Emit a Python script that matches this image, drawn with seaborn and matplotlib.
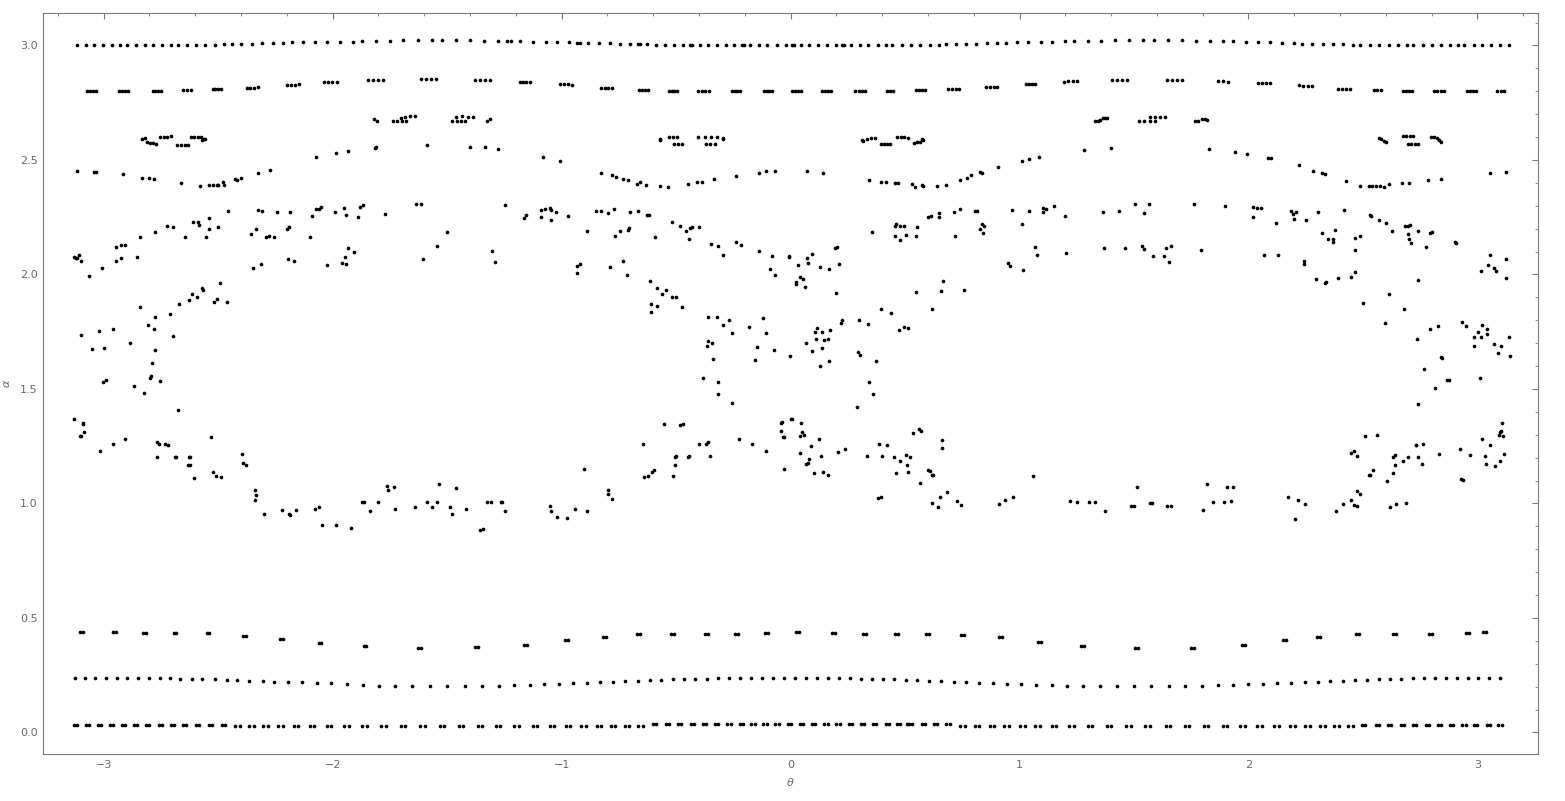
"""
Poincare section of (theta, alpha): scatter of section crossings.
Values read off the reference picture, grouped by visible band.
"""
import matplotlib

matplotlib.use("Agg")
import matplotlib.pyplot as plt
from matplotlib.ticker import MultipleLocator, FormatStrFormatter
import pandas as pd
import seaborn as sns

sns.set_theme(style="white")
plt.rcParams["font.family"] = ["DejaVu Sans"]

# --- outer curve near alpha = 3.0 ---
top_band = [
    (-3.117, 3.000), (-3.077, 3.000), (-3.042, 3.000), (-3.003, 3.000), (-2.964, 3.000), (-2.930, 3.000),
    (-2.898, 3.000), (-2.859, 3.000), (-2.820, 3.000), (-2.785, 3.000), (-2.745, 3.000), (-2.706, 3.000),
    (-2.674, 3.000), (-2.636, 3.000), (-2.597, 3.000), (-2.558, 3.000), (-2.514, 3.003), (-2.475, 3.005),
    (-2.438, 3.005), (-2.400, 3.005), (-2.352, 3.006), (-2.309, 3.010), (-2.261, 3.010), (-2.217, 3.010),
    (-2.178, 3.013), (-2.130, 3.013), (-2.077, 3.013), (-2.025, 3.017), (-1.968, 3.017), (-1.911, 3.017),
    (-1.872, 3.020), (-1.809, 3.020), (-1.751, 3.020), (-1.691, 3.022), (-1.629, 3.022), (-1.566, 3.022),
    (-1.523, 3.022), (-1.462, 3.022), (-1.400, 3.022), (-1.338, 3.021), (-1.278, 3.019), (-1.237, 3.019),
    (-1.221, 3.019), (-1.182, 3.018), (-1.125, 3.017), (-1.069, 3.016), (-1.021, 3.015), (-0.966, 3.013),
    (-0.932, 3.012), (-0.920, 3.012), (-0.885, 3.011), (-0.835, 3.010), (-0.787, 3.009), (-0.744, 3.007),
    (-0.701, 3.006), (-0.667, 3.005), (-0.659, 3.005), (-0.626, 3.004), (-0.587, 3.003), (-0.548, 3.002),
    (-0.508, 3.000), (-0.469, 3.000), (-0.438, 3.000), (-0.430, 3.000), (-0.397, 3.000), (-0.359, 3.000),
    (-0.320, 3.000), (-0.281, 3.000), (-0.245, 3.000), (-0.212, 3.000), (-0.204, 3.000), (-0.176, 3.000),
    (-0.139, 3.000), (-0.102, 3.000), (-0.061, 3.000), (-0.022, 3.000), (0.007, 3.000), (0.014, 3.000),
    (0.045, 3.000), (0.082, 3.000), (0.120, 3.000), (0.159, 3.000), (0.197, 3.000), (0.225, 3.000),
    (0.234, 3.000), (0.263, 3.000), (0.302, 3.000), (0.340, 3.000), (0.381, 3.000), (0.417, 3.000),
    (0.445, 3.000), (0.485, 3.000), (0.525, 3.000), (0.565, 3.000), (0.608, 3.002), (0.647, 3.003),
    (0.677, 3.004), (0.721, 3.005), (0.765, 3.006), (0.810, 3.008), (0.857, 3.009), (0.902, 3.010),
    (0.941, 3.012), (0.990, 3.013), (1.039, 3.015), (1.092, 3.016), (1.141, 3.017), (1.197, 3.018),
    (1.237, 3.019), (1.299, 3.020), (1.355, 3.021), (1.417, 3.022), (1.479, 3.022), (1.540, 3.022),
    (1.588, 3.022), (1.649, 3.022), (1.710, 3.022), (1.772, 3.021), (1.833, 3.020), (1.889, 3.019),
    (1.932, 3.018), (1.990, 3.017), (2.043, 3.015), (2.095, 3.013), (2.148, 3.012), (2.197, 3.010),
    (2.236, 3.008), (2.279, 3.007), (2.327, 3.006), (2.371, 3.005), (2.415, 3.004), (2.458, 3.003),
    (2.488, 3.002), (2.532, 3.000), (2.572, 3.000), (2.616, 3.000), (2.655, 3.000), (2.693, 3.000),
    (2.720, 3.000), (2.761, 3.000), (2.800, 3.000), (2.840, 3.000), (2.879, 3.000), (2.914, 3.000),
    (2.943, 3.000), (2.983, 3.000), (3.022, 3.000), (3.060, 3.000), (3.098, 3.000), (3.136, 3.000),
]

# --- island chain near alpha = 2.8 (short dashes of 3-4 crossings) ---
dash_band = [
    (-3.072, 2.800), (-3.060, 2.800), (-3.047, 2.800), (-3.035, 2.800),
    (-2.934, 2.800), (-2.921, 2.800), (-2.908, 2.800), (-2.895, 2.800),
    (-2.786, 2.800), (-2.774, 2.800), (-2.762, 2.800), (-2.751, 2.800),
    (-2.655, 2.804), (-2.638, 2.804), (-2.620, 2.804),
    (-2.524, 2.809), (-2.512, 2.809), (-2.501, 2.809), (-2.489, 2.809),
    (-2.376, 2.815), (-2.360, 2.815), (-2.344, 2.815), (-2.328, 2.817),
    (-2.201, 2.826), (-2.183, 2.828), (-2.166, 2.828), (-2.148, 2.831),
    (-2.039, 2.839), (-2.020, 2.839), (-2.002, 2.839), (-1.983, 2.839),
    (-1.847, 2.848), (-1.825, 2.848), (-1.804, 2.848), (-1.782, 2.848),
    (-1.616, 2.852), (-1.594, 2.852), (-1.572, 2.852), (-1.550, 2.852),
    (-1.380, 2.850), (-1.358, 2.850), (-1.336, 2.850), (-1.314, 2.850),
    (-1.183, 2.842), (-1.169, 2.842), (-1.154, 2.842), (-1.140, 2.842),
    (-1.006, 2.831), (-0.989, 2.831), (-0.972, 2.831), (-0.955, 2.829),
    (-0.826, 2.816), (-0.811, 2.816), (-0.796, 2.816), (-0.781, 2.816),
    (-0.664, 2.807), (-0.650, 2.807), (-0.635, 2.807), (-0.621, 2.807),
    (-0.533, 2.803), (-0.520, 2.803), (-0.508, 2.803), (-0.495, 2.803),
    (-0.403, 2.800), (-0.388, 2.800), (-0.373, 2.800), (-0.358, 2.800),
    (-0.257, 2.800), (-0.244, 2.800), (-0.232, 2.800), (-0.219, 2.800),
    (-0.117, 2.800), (-0.104, 2.800), (-0.092, 2.800), (-0.079, 2.800),
    (0.007, 2.800), (0.020, 2.800), (0.032, 2.800), (0.045, 2.800),
    (0.138, 2.800), (0.151, 2.800), (0.164, 2.800), (0.177, 2.800),
    (0.283, 2.800), (0.297, 2.800), (0.312, 2.800), (0.326, 2.800),
    (0.421, 2.800), (0.435, 2.800), (0.448, 2.800),
    (0.548, 2.804), (0.561, 2.804), (0.574, 2.804), (0.587, 2.804),
    (0.688, 2.810), (0.704, 2.810), (0.721, 2.810), (0.737, 2.810),
    (0.854, 2.817), (0.870, 2.819), (0.887, 2.819), (0.903, 2.819),
    (1.028, 2.831), (1.042, 2.833), (1.055, 2.833), (1.069, 2.833),
    (1.194, 2.842), (1.213, 2.844), (1.233, 2.844), (1.252, 2.844),
    (1.404, 2.851), (1.425, 2.851), (1.447, 2.851), (1.468, 2.851),
    (1.643, 2.851), (1.665, 2.851), (1.686, 2.851), (1.708, 2.851),
    (1.866, 2.846), (1.889, 2.844), (1.911, 2.842),
    (2.043, 2.835), (2.061, 2.835), (2.078, 2.835), (2.096, 2.835),
    (2.221, 2.826), (2.240, 2.824), (2.258, 2.824), (2.277, 2.822),
    (2.391, 2.811), (2.408, 2.811), (2.426, 2.811), (2.443, 2.811),
    (2.548, 2.806), (2.563, 2.804), (2.578, 2.804),
    (2.674, 2.800), (2.687, 2.800), (2.700, 2.800), (2.713, 2.800),
    (2.809, 2.800), (2.824, 2.800), (2.840, 2.800), (2.855, 2.800),
    (2.954, 2.800), (2.967, 2.800), (2.980, 2.800), (2.993, 2.800),
    (3.087, 2.800), (3.102, 2.800), (3.118, 2.800),
]

# --- small resonance islands near alpha = 2.6 and 2.68 ---
islands = [
    (-2.831, 2.590), (-2.821, 2.597), (-2.809, 2.577), (-2.797, 2.575), (-2.785, 2.573), (-2.773, 2.571),
    (-2.754, 2.600), (-2.738, 2.600), (-2.722, 2.602), (-2.707, 2.603), (-2.678, 2.567), (-2.662, 2.567),
    (-2.646, 2.567), (-2.630, 2.567), (-2.620, 2.600), (-2.605, 2.600), (-2.590, 2.600), (-2.576, 2.600),
    (-2.569, 2.585), (-2.563, 2.590), (-2.558, 2.593),
    (-1.820, 2.677), (-1.805, 2.670), (-1.735, 2.669), (-1.717, 2.669), (-1.699, 2.669), (-1.681, 2.669),
    (-1.703, 2.682), (-1.682, 2.689), (-1.662, 2.690), (-1.641, 2.690), (-1.477, 2.669), (-1.458, 2.669),
    (-1.440, 2.669), (-1.421, 2.669), (-1.462, 2.689), (-1.437, 2.690), (-1.411, 2.689), (-1.386, 2.688),
    (-1.324, 2.672), (-1.314, 2.678),
    (-0.572, 2.587), (-0.570, 2.590), (-0.533, 2.599), (-0.514, 2.599), (-0.495, 2.599), (-0.508, 2.569),
    (-0.492, 2.569), (-0.475, 2.569), (-0.403, 2.599), (-0.375, 2.599), (-0.348, 2.599), (-0.320, 2.599),
    (-0.371, 2.571), (-0.352, 2.571), (-0.332, 2.571), (-0.297, 2.590), (-0.295, 2.594),
    (0.311, 2.585), (0.315, 2.583), (0.335, 2.592), (0.352, 2.595), (0.369, 2.597), (0.396, 2.569),
    (0.409, 2.569), (0.423, 2.569), (0.436, 2.569), (0.466, 2.599), (0.481, 2.600), (0.497, 2.599),
    (0.512, 2.596), (0.537, 2.575), (0.551, 2.577), (0.565, 2.579), (0.576, 2.590), (0.580, 2.587),
    (1.331, 2.670), (1.342, 2.670), (1.351, 2.676), (1.363, 2.682), (1.374, 2.682), (1.384, 2.682),
    (1.521, 2.670), (1.544, 2.670), (1.570, 2.670), (1.593, 2.670), (1.570, 2.687), (1.593, 2.687),
    (1.614, 2.689), (1.635, 2.689), (1.765, 2.670), (1.780, 2.672), (1.795, 2.678), (1.810, 2.678),
    (1.818, 2.676),
    (2.570, 2.595), (2.580, 2.590), (2.590, 2.582), (2.601, 2.578), (2.674, 2.603), (2.689, 2.603),
    (2.705, 2.603), (2.720, 2.603), (2.695, 2.569), (2.710, 2.569), (2.726, 2.569), (2.741, 2.569),
    (2.799, 2.599), (2.812, 2.598), (2.825, 2.594), (2.834, 2.586), (2.840, 2.580),
]

# --- wavy curve between alpha = 2.38 and 2.56 ---
arc_band = [
    (-3.117, 2.451), (-3.042, 2.446), (-3.035, 2.449), (-2.916, 2.439), (-2.834, 2.420), (-2.803, 2.420),
    (-2.782, 2.416), (-2.662, 2.398), (-2.579, 2.385), (-2.541, 2.389), (-2.523, 2.389), (-2.507, 2.389),
    (-2.502, 2.392), (-2.479, 2.402), (-2.475, 2.389), (-2.427, 2.416), (-2.418, 2.411), (-2.400, 2.420),
    (-2.326, 2.442), (-2.274, 2.455), (-2.073, 2.512), (-1.986, 2.529), (-1.933, 2.538), (-1.817, 2.551),
    (-1.809, 2.555), (-1.588, 2.564), (-1.400, 2.555), (-1.335, 2.555), (-1.278, 2.547), (-1.082, 2.514),
    (-1.007, 2.497), (-0.827, 2.442), (-0.780, 2.433), (-0.763, 2.424), (-0.732, 2.417), (-0.710, 2.414),
    (-0.671, 2.394), (-0.658, 2.405), (-0.630, 2.389), (-0.571, 2.388), (-0.536, 2.383), (-0.448, 2.397),
    (-0.409, 2.405), (-0.387, 2.405), (-0.335, 2.417), (-0.239, 2.431), (-0.138, 2.442), (-0.108, 2.451),
    (-0.069, 2.451), (0.071, 2.451), (0.141, 2.442), (0.342, 2.414), (0.396, 2.405), (0.416, 2.405),
    (0.457, 2.398), (0.469, 2.401), (0.531, 2.397), (0.543, 2.383), (0.575, 2.389), (0.579, 2.388),
    (0.639, 2.388), (0.678, 2.392), (0.739, 2.414), (0.770, 2.423), (0.787, 2.433), (0.827, 2.446),
    (0.834, 2.442), (0.905, 2.471), (1.012, 2.497), (1.042, 2.506), (1.085, 2.514), (1.281, 2.545),
    (1.400, 2.554), (1.828, 2.549), (1.942, 2.536), (1.994, 2.528), (2.084, 2.510), (2.099, 2.510),
    (2.222, 2.479), (2.283, 2.453), (2.320, 2.445), (2.333, 2.440), (2.428, 2.410), (2.485, 2.388),
    (2.525, 2.388), (2.540, 2.388), (2.555, 2.388), (2.573, 2.388), (2.590, 2.383), (2.613, 2.397),
    (2.669, 2.401), (2.700, 2.401), (2.786, 2.414), (2.843, 2.418), (3.054, 2.445), (3.127, 2.449),
]

# --- chaotic sea, alpha from 0.88 to 2.31 ---
chaotic_sea = [
    # left, upper part
    (-1.634, 2.306), (-1.613, 2.306), (-1.247, 2.302), (-2.457, 2.276), (-2.325, 2.280), (-2.309, 2.276),
    (-2.243, 2.272), (-2.186, 2.272), (-2.073, 2.285), (-2.060, 2.287), (-2.051, 2.293), (-1.990, 2.272),
    (-1.951, 2.289), (-1.942, 2.259), (-1.879, 2.296), (-1.868, 2.302), (-1.889, 2.250), (-1.772, 2.263),
    (-2.090, 2.254), (-2.538, 2.247), (-2.608, 2.228), (-2.588, 2.228), (-2.584, 2.216), (-2.725, 2.211),
    (-2.699, 2.206), (-2.776, 2.184), (-2.540, 2.197), (-2.501, 2.206), (-2.841, 2.162), (-2.645, 2.162),
    (-2.553, 2.162), (-2.357, 2.175), (-2.335, 2.197), (-2.290, 2.162), (-2.278, 2.169), (-2.256, 2.162),
    (-2.200, 2.197), (-2.191, 2.206), (-2.099, 2.162), (-1.501, 2.184), (-1.545, 2.123), (-1.306, 2.101),
    (-1.291, 2.053), (-2.946, 2.119), (-2.923, 2.127), (-2.907, 2.127), (-2.856, 2.075), (-2.946, 2.058),
    (-2.926, 2.071), (-3.007, 2.027), (-3.131, 2.075), (-3.121, 2.071), (-3.115, 2.071), (-3.108, 2.084),
    (-3.099, 2.058), (-2.348, 2.027), (-2.313, 2.045), (-2.195, 2.066), (-2.169, 2.058), (-2.023, 2.040),
    (-1.959, 2.049), (-1.942, 2.045), (-1.946, 2.075), (-1.933, 2.114), (-1.907, 2.097), (-1.606, 2.066),
    # left, middle and lower part
    (-3.064, 1.992), (-3.099, 1.734), (-3.051, 1.673), (-3.022, 1.752), (-2.999, 1.678), (-2.959, 1.761),
    (-3.003, 1.529), (-2.990, 1.538), (-2.885, 1.700), (-2.841, 1.857), (-2.867, 1.512), (-2.824, 1.481),
    (-2.806, 1.778), (-2.782, 1.761), (-2.776, 1.813), (-2.776, 1.669), (-2.789, 1.612), (-2.798, 1.547),
    (-2.793, 1.555), (-2.754, 1.534), (-2.710, 1.826), (-2.697, 1.730), (-2.676, 1.407), (-2.671, 1.870),
    (-2.628, 1.887), (-2.614, 1.914), (-2.593, 1.900), (-2.571, 1.940), (-2.567, 1.931), (-2.518, 1.879),
    (-2.505, 1.892), (-2.492, 1.962), (-2.462, 1.879), (-3.130, 1.368), (-3.103, 1.293), (-3.099, 1.293),
    (-3.090, 1.353), (-3.090, 1.349), (-3.086, 1.314), (-3.016, 1.228), (-2.959, 1.258), (-2.907, 1.280),
    (-2.767, 1.267), (-2.758, 1.258), (-2.767, 1.202), (-2.732, 1.258), (-2.719, 1.254), (-2.689, 1.204),
    (-2.684, 1.202), (-2.628, 1.204), (-2.623, 1.202), (-2.632, 1.167), (-2.623, 1.167), (-2.606, 1.110),
    (-2.531, 1.289), (-2.523, 1.136), (-2.510, 1.119), (-2.488, 1.114), (-2.396, 1.215), (-2.390, 1.176),
    (-2.377, 1.167), (-2.339, 1.059), (-2.335, 1.036), (-2.339, 1.014), (-2.300, 0.953), (-2.221, 0.970),
    (-2.191, 0.953), (-2.186, 0.948), (-2.160, 0.970), (-2.077, 0.975), (-2.060, 0.983), (-2.047, 0.905),
    (-1.986, 0.905), (-1.920, 0.892), (-1.870, 1.005), (-1.863, 1.005), (-1.837, 0.966), (-1.802, 1.005),
    (-1.763, 1.075), (-1.758, 1.058), (-1.732, 1.071), (-1.728, 0.975), (-1.641, 0.983), (-1.588, 1.005),
    (-1.566, 0.983), (-1.545, 1.005), (-1.536, 1.083), (-1.488, 0.983), (-1.479, 0.953), (-1.462, 1.066),
    (-1.418, 0.975), (-1.357, 0.883), (-1.344, 0.887), (-1.326, 1.005), (-1.309, 1.005), (-1.265, 1.005),
    (-1.261, 1.005), (-1.248, 0.966),
    # centre, upper part
    (-1.165, 2.246), (-1.156, 2.261), (-1.090, 2.280), (-1.090, 2.250), (-1.073, 2.285), (-1.051, 2.289),
    (-1.047, 2.280), (-1.025, 2.274), (-1.047, 2.237), (-0.972, 2.257), (-0.890, 2.189), (-0.850, 2.276),
    (-0.828, 2.276), (-0.798, 2.267), (-0.772, 2.285), (-0.767, 2.167), (-0.745, 2.189), (-0.710, 2.196),
    (-0.706, 2.202), (-0.702, 2.272), (-0.667, 2.276), (-0.628, 2.259), (-0.619, 2.259), (-0.593, 2.162),
    (-0.518, 2.228), (-0.483, 2.211), (-0.457, 2.191), (-0.440, 2.203), (-0.431, 2.209), (-0.442, 2.154),
    (-0.400, 2.206), (-0.348, 2.132), (-0.317, 2.123), (-0.296, 2.084), (-0.239, 2.140), (-0.217, 2.127),
    (-0.138, 2.101), (-0.082, 2.079), (-0.090, 2.023), (-0.069, 1.997), (-0.007, 2.079), (-0.006, 2.075),
    (0.032, 2.040), (0.041, 1.988), (0.054, 1.979), (0.023, 1.966), (0.023, 1.957), (0.062, 1.944),
    (0.071, 2.071), (0.076, 2.049), (0.093, 2.087), (0.128, 2.032), (0.167, 2.023), (0.194, 2.114),
    (0.202, 2.119), (0.211, 2.045), (0.198, 1.918), (0.355, 2.184), (0.457, 2.211), (0.462, 2.219),
    (0.479, 2.211), (0.497, 2.211), (0.457, 2.167), (0.479, 2.149), (0.505, 2.171), (0.547, 2.167),
    (0.552, 2.206), (0.601, 2.250), (0.614, 2.254), (0.649, 2.250), (0.649, 2.267), (0.715, 2.272),
    (0.741, 2.285), (0.806, 2.276), (0.815, 2.276), (0.718, 2.167), (0.835, 2.219), (0.844, 2.211),
    (0.827, 2.197), (0.840, 2.180), (0.968, 2.280), (0.949, 2.049), (0.958, 2.036), (0.547, 1.923),
    (0.619, 1.851), (0.656, 1.927), (0.665, 1.970), (0.757, 1.931), (0.394, 1.848), (0.438, 1.831),
    (0.473, 1.756), (0.495, 1.769), (0.512, 1.765), (0.298, 1.801), (0.338, 1.783), (0.372, 1.621),
    (0.294, 1.660), (0.303, 1.647), (0.342, 1.529), (0.359, 1.477), (-0.933, 2.036), (-0.920, 2.045),
    (-0.933, 2.005), (-0.789, 2.032), (-0.732, 2.058), (-0.715, 1.997), (-0.614, 1.970), (-0.584, 1.940),
    (-0.562, 1.914), (-0.545, 1.931), (-0.518, 1.900), (-0.501, 1.900), (-0.610, 1.870), (-0.610, 1.835),
    (-0.584, 1.861), (-0.475, 1.857), (-0.361, 1.813), (-0.322, 1.813), (-0.296, 1.778), (-0.269, 1.800),
    (-0.256, 1.743), (-0.182, 1.769), (-0.121, 1.808), (-0.108, 1.743), (-0.147, 1.682), (-0.156, 1.625),
    (-0.073, 1.669), (-0.003, 1.643), (-0.361, 1.708), (-0.366, 1.686), (-0.344, 1.700), (-0.339, 1.629),
    (-0.383, 1.547), (-0.317, 1.529), (-0.317, 1.477), (0.067, 1.700), (0.093, 1.665), (0.106, 1.748),
    (0.115, 1.765), (0.110, 1.717), (0.137, 1.748), (0.145, 1.713), (0.163, 1.717), (0.172, 1.756),
    (0.137, 1.678), (0.128, 1.599), (0.167, 1.621), (0.220, 1.787), (0.224, 1.800),
    # centre, lower part
    (-0.256, 1.438), (0.290, 1.421), (-1.051, 0.988), (-1.047, 0.966), (-1.021, 0.940), (-0.977, 0.935),
    (-0.942, 0.975), (-0.903, 1.149), (-0.890, 0.966), (-0.798, 1.058), (-0.798, 1.040), (-0.780, 1.018),
    (-0.645, 1.258), (-0.641, 1.114), (-0.623, 1.119), (-0.606, 1.136), (-0.597, 1.145), (-0.553, 1.346),
    (-0.483, 1.341), (-0.470, 1.346), (-0.514, 1.119), (-0.505, 1.202), (-0.501, 1.206), (-0.505, 1.167),
    (-0.448, 1.202), (-0.444, 1.206), (-0.400, 1.258), (-0.370, 1.258), (-0.361, 1.267), (-0.352, 1.206),
    (-0.226, 1.280), (-0.169, 1.258), (-0.108, 1.228), (-0.042, 1.350), (-0.038, 1.355), (-0.042, 1.315),
    (-0.034, 1.292), (-0.029, 1.292), (-0.029, 1.149), (0.001, 1.368), (0.007, 1.368), (0.045, 1.350),
    (0.052, 1.311), (0.058, 1.298), (0.041, 1.293), (0.041, 1.219), (0.089, 1.250), (0.124, 1.280),
    (0.080, 1.193), (0.076, 1.176), (0.067, 1.171), (0.132, 1.206), (0.102, 1.132), (0.141, 1.136),
    (0.163, 1.123), (0.207, 1.224), (0.237, 1.237), (0.333, 1.206), (0.386, 1.258), (0.399, 1.206),
    (0.421, 1.254), (0.381, 1.023), (0.394, 1.027), (0.451, 1.202), (0.477, 1.184), (0.460, 1.132),
    (0.503, 1.210), (0.521, 1.202), (0.508, 1.167), (0.512, 1.136), (0.534, 1.307), (0.560, 1.324),
    (0.569, 1.315), (0.565, 1.088), (0.600, 1.145), (0.608, 1.141), (0.617, 1.123), (0.621, 1.123),
    (0.661, 1.276), (0.661, 1.241), (0.617, 1.001), (0.643, 0.983), (0.652, 1.027), (0.683, 1.049),
    (0.726, 1.010), (0.744, 0.992), (0.910, 0.997), (0.936, 1.014), (0.971, 1.027),
    # right, upper and middle part
    (1.012, 2.219), (1.042, 2.276), (1.102, 2.289), (1.102, 2.272), (1.115, 2.285), (1.150, 2.298),
    (1.197, 2.254), (1.365, 2.272), (1.434, 2.276), (1.505, 2.307), (1.544, 2.267), (1.566, 2.307),
    (1.763, 2.307), (1.898, 2.298), (2.021, 2.293), (2.038, 2.289), (2.054, 2.289), (2.021, 2.250),
    (2.122, 2.224), (2.187, 2.276), (2.193, 2.263), (2.206, 2.272), (2.201, 2.241), (2.253, 2.237),
    (2.303, 2.272), (2.418, 2.280), (2.529, 2.259), (2.534, 2.254), (2.572, 2.237), (2.601, 2.224),
    (2.625, 2.189), (2.683, 2.211), (2.695, 2.211), (2.707, 2.215), (2.699, 2.178), (2.703, 2.154),
    (2.712, 2.136), (2.742, 2.189), (2.791, 2.180), (2.803, 2.184), (2.777, 2.119), (2.900, 2.141),
    (2.908, 2.136), (2.323, 2.180), (2.348, 2.154), (2.371, 2.154), (2.371, 2.143), (2.380, 2.193),
    (2.467, 2.158), (2.488, 2.167), (2.467, 2.106), (2.464, 2.012), (2.446, 1.990), (2.391, 1.986),
    (2.336, 1.961), (2.339, 1.968), (2.295, 1.982), (2.244, 2.059), (2.244, 2.046), (2.127, 2.084),
    (2.069, 2.084), (1.793, 2.106), (1.661, 2.123), (1.640, 2.114), (1.632, 2.080), (1.654, 2.056),
    (1.584, 2.080), (1.535, 2.123), (1.544, 2.110), (1.461, 2.114), (1.369, 2.114), (1.202, 2.093),
    (1.067, 2.119), (1.076, 2.084), (1.015, 2.018), (2.502, 1.874), (2.616, 1.914), (2.598, 1.787),
    (2.681, 1.848), (2.742, 1.975), (2.738, 1.717), (2.794, 1.761), (2.829, 1.774), (2.765, 1.586),
    (2.816, 1.503), (2.842, 1.641), (2.847, 1.634), (2.869, 1.538), (2.878, 1.538), (2.931, 1.791),
    (2.952, 1.774), (2.983, 1.726), (3.001, 1.748), (2.987, 1.686), (3.014, 1.726), (3.019, 1.778),
    (3.040, 1.761), (3.040, 1.739), (3.011, 1.547), (3.073, 1.695), (3.101, 1.686), (3.092, 1.656),
    (3.136, 1.726), (3.141, 1.643), (3.054, 2.084), (3.014, 2.014), (3.045, 2.040), (3.072, 2.027),
    (3.080, 2.014), (3.127, 2.066), (3.127, 1.983),
    # right, lower part
    (2.742, 1.433), (1.059, 1.119), (1.220, 1.010), (1.251, 1.005), (1.304, 1.005), (1.330, 1.005),
    (1.374, 0.966), (1.485, 0.988), (1.500, 0.988), (1.514, 1.071), (1.570, 1.001), (1.578, 1.001),
    (1.645, 0.988), (1.661, 0.988), (1.801, 0.970), (1.819, 1.084), (1.845, 1.005), (1.894, 1.005),
    (1.907, 1.071), (1.933, 1.071), (1.924, 1.010), (2.174, 1.027), (2.204, 0.931), (2.218, 1.014),
    (2.248, 0.997), (2.383, 0.966), (2.411, 0.997), (2.446, 1.014), (2.459, 0.992), (2.473, 0.988),
    (2.476, 1.053), (2.485, 1.040), (2.446, 1.219), (2.459, 1.228), (2.476, 1.206), (2.511, 1.293),
    (2.563, 1.298), (2.525, 1.123), (2.529, 1.123), (2.546, 1.145), (2.607, 1.097), (2.620, 0.983),
    (2.646, 0.997), (2.690, 1.001), (2.630, 1.132), (2.630, 1.202), (2.642, 1.210), (2.642, 1.167),
    (2.673, 1.184), (2.695, 1.202), (2.730, 1.254), (2.733, 1.254), (2.764, 1.258), (2.742, 1.202),
    (2.756, 1.171), (2.834, 1.215), (2.922, 1.237), (2.929, 1.106), (2.935, 1.101), (2.966, 1.210),
    (3.022, 1.280), (3.031, 1.206), (3.036, 1.171), (3.057, 1.254), (3.075, 1.162), (3.094, 1.298),
    (3.098, 1.311), (3.103, 1.315), (3.106, 1.350), (3.110, 1.293), (3.097, 1.184), (3.115, 1.215),
]

# --- island chain near alpha = 0.43 (each spot is two overlapping crossings) ---
low_islands = [
    (-3.102, 0.438), (-3.090, 0.438), (-2.958, 0.438), (-2.946, 0.438), (-2.827, 0.433), (-2.815, 0.433),
    (-2.695, 0.433), (-2.683, 0.433), (-2.550, 0.433), (-2.538, 0.433), (-2.392, 0.421), (-2.380, 0.421),
    (-2.229, 0.407), (-2.217, 0.407), (-2.061, 0.390), (-2.049, 0.390), (-1.865, 0.376), (-1.853, 0.376),
    (-1.626, 0.368), (-1.614, 0.368), (-1.377, 0.372), (-1.365, 0.372), (-1.163, 0.382), (-1.151, 0.382),
    (-0.984, 0.404), (-0.972, 0.404), (-0.818, 0.417), (-0.806, 0.417), (-0.670, 0.430), (-0.658, 0.430),
    (-0.521, 0.430), (-0.509, 0.430), (-0.373, 0.430), (-0.361, 0.430), (-0.242, 0.430), (-0.230, 0.430),
    (-0.111, 0.435), (-0.099, 0.435), (0.025, 0.439), (0.037, 0.439), (0.182, 0.435), (0.194, 0.435),
    (0.317, 0.430), (0.329, 0.430), (0.457, 0.430), (0.469, 0.430), (0.592, 0.430), (0.604, 0.430),
    (0.745, 0.426), (0.757, 0.426), (0.911, 0.417), (0.923, 0.417), (1.081, 0.395), (1.093, 0.395),
    (1.269, 0.378), (1.281, 0.378), (1.505, 0.369), (1.517, 0.369), (1.749, 0.369), (1.761, 0.369),
    (1.972, 0.382), (1.984, 0.382), (2.151, 0.404), (2.163, 0.404), (2.300, 0.417), (2.312, 0.417),
    (2.470, 0.430), (2.482, 0.430), (2.632, 0.430), (2.644, 0.430), (2.789, 0.430), (2.801, 0.430),
    (2.950, 0.433), (2.962, 0.433), (3.025, 0.439), (3.037, 0.439),
]

# --- curve near alpha = 0.2 ---
mid_low_band = [
    (-3.127, 0.237), (-3.083, 0.237), (-3.036, 0.237), (-2.990, 0.237), (-2.943, 0.237), (-2.897, 0.237),
    (-2.849, 0.237), (-2.803, 0.237), (-2.755, 0.237), (-2.712, 0.237), (-2.667, 0.232), (-2.616, 0.234),
    (-2.569, 0.232), (-2.515, 0.232), (-2.463, 0.228), (-2.416, 0.228), (-2.364, 0.224), (-2.306, 0.224),
    (-2.256, 0.222), (-2.195, 0.222), (-2.135, 0.219), (-2.070, 0.215), (-2.006, 0.215), (-1.936, 0.210),
    (-1.869, 0.208), (-1.797, 0.204), (-1.726, 0.204), (-1.654, 0.202), (-1.576, 0.202), (-1.499, 0.202),
    (-1.422, 0.202), (-1.348, 0.204), (-1.275, 0.204), (-1.207, 0.206), (-1.140, 0.208), (-1.075, 0.210),
    (-1.012, 0.213), (-0.950, 0.215), (-0.890, 0.217), (-0.832, 0.219), (-0.776, 0.222), (-0.722, 0.224),
    (-0.668, 0.226), (-0.616, 0.228), (-0.565, 0.230), (-0.515, 0.232), (-0.465, 0.233), (-0.416, 0.234),
    (-0.367, 0.235), (-0.318, 0.236), (-0.270, 0.237), (-0.222, 0.237), (-0.174, 0.237), (-0.126, 0.237),
    (-0.078, 0.237), (-0.030, 0.237), (0.018, 0.237), (0.066, 0.237), (0.114, 0.237), (0.162, 0.237),
    (0.210, 0.237), (0.258, 0.236), (0.306, 0.235), (0.355, 0.234), (0.404, 0.233), (0.453, 0.232),
    (0.503, 0.230), (0.554, 0.228), (0.606, 0.226), (0.659, 0.224), (0.713, 0.222), (0.768, 0.219),
    (0.825, 0.217), (0.884, 0.215), (0.945, 0.213), (1.008, 0.210), (1.073, 0.208), (1.140, 0.206),
    (1.208, 0.204), (1.278, 0.204), (1.350, 0.202), (1.424, 0.202), (1.499, 0.202), (1.575, 0.202),
    (1.651, 0.202), (1.725, 0.204), (1.796, 0.204), (1.866, 0.206), (1.934, 0.208), (2.000, 0.210),
    (2.064, 0.213), (2.126, 0.215), (2.186, 0.217), (2.245, 0.219), (2.302, 0.222), (2.358, 0.224),
    (2.412, 0.226), (2.465, 0.228), (2.517, 0.230), (2.568, 0.232), (2.618, 0.234), (2.668, 0.235),
    (2.717, 0.236), (2.766, 0.237), (2.814, 0.237), (2.862, 0.237), (2.910, 0.237), (2.957, 0.237),
    (3.004, 0.237), (3.051, 0.237), (3.098, 0.237),
]

# --- pairs of crossings near alpha = 0.03 ---
bottom_band = [
    (-3.131, 0.034), (-3.117, 0.034), (-3.078, 0.034), (-3.064, 0.034), (-3.026, 0.034), (-3.012, 0.034),
    (-2.972, 0.034), (-2.958, 0.034), (-2.920, 0.034), (-2.906, 0.034), (-2.867, 0.034), (-2.853, 0.034),
    (-2.815, 0.034), (-2.801, 0.034), (-2.759, 0.034), (-2.745, 0.034), (-2.706, 0.034), (-2.692, 0.034),
    (-2.653, 0.034), (-2.639, 0.034), (-2.597, 0.034), (-2.583, 0.034), (-2.541, 0.034), (-2.527, 0.034),
    (-2.483, 0.034), (-2.469, 0.034),
    (-2.425, 0.030), (-2.405, 0.030), (-2.365, 0.030), (-2.345, 0.030), (-2.303, 0.030), (-2.283, 0.030),
    (-2.237, 0.030), (-2.217, 0.030), (-2.170, 0.030), (-2.150, 0.030), (-2.100, 0.030), (-2.080, 0.030),
    (-2.026, 0.030), (-2.006, 0.030), (-1.950, 0.030), (-1.930, 0.030), (-1.870, 0.030), (-1.850, 0.030),
    (-1.789, 0.030), (-1.769, 0.030), (-1.703, 0.030), (-1.683, 0.030), (-1.618, 0.030), (-1.598, 0.030),
    (-1.533, 0.030), (-1.513, 0.030), (-1.450, 0.030), (-1.430, 0.030), (-1.367, 0.030), (-1.347, 0.030),
    (-1.288, 0.030), (-1.268, 0.030), (-1.206, 0.030), (-1.186, 0.030), (-1.127, 0.030), (-1.107, 0.030),
    (-1.052, 0.030), (-1.032, 0.030), (-0.983, 0.030), (-0.963, 0.030), (-0.914, 0.030), (-0.894, 0.030),
    (-0.847, 0.030), (-0.827, 0.030), (-0.785, 0.030), (-0.765, 0.030), (-0.724, 0.030), (-0.704, 0.030),
    (-0.665, 0.030), (-0.645, 0.030),
    (-0.603, 0.035), (-0.589, 0.035), (-0.546, 0.035), (-0.532, 0.035), (-0.493, 0.035), (-0.479, 0.035),
    (-0.437, 0.035), (-0.423, 0.035), (-0.383, 0.035), (-0.369, 0.035), (-0.329, 0.035), (-0.315, 0.035),
    (-0.276, 0.035), (-0.262, 0.035), (-0.222, 0.035), (-0.208, 0.035), (-0.171, 0.035), (-0.157, 0.035),
    (-0.119, 0.035), (-0.105, 0.035), (-0.066, 0.035), (-0.052, 0.035), (-0.012, 0.035), (0.002, 0.035),
    (0.042, 0.035), (0.056, 0.035), (0.094, 0.035), (0.108, 0.035), (0.148, 0.035), (0.162, 0.035),
    (0.200, 0.035), (0.214, 0.035), (0.254, 0.035), (0.268, 0.035), (0.307, 0.035), (0.321, 0.035),
    (0.361, 0.035), (0.375, 0.035), (0.415, 0.035), (0.429, 0.035), (0.465, 0.035), (0.479, 0.035),
    (0.508, 0.035), (0.519, 0.035), (0.530, 0.035), (0.573, 0.035), (0.587, 0.035), (0.627, 0.035),
    (0.641, 0.035), (0.681, 0.035), (0.695, 0.035),
    (0.742, 0.030), (0.762, 0.030), (0.804, 0.030), (0.824, 0.030), (0.870, 0.030), (0.890, 0.030),
    (0.934, 0.030), (0.954, 0.030), (1.003, 0.030), (1.023, 0.030), (1.069, 0.030), (1.089, 0.030),
    (1.140, 0.030), (1.160, 0.030), (1.217, 0.030), (1.237, 0.030), (1.297, 0.030), (1.317, 0.030),
    (1.380, 0.030), (1.400, 0.030), (1.465, 0.030), (1.485, 0.030), (1.550, 0.030), (1.570, 0.030),
    (1.638, 0.030), (1.658, 0.030), (1.721, 0.030), (1.741, 0.030), (1.804, 0.030), (1.824, 0.030),
    (1.887, 0.030), (1.907, 0.030), (1.965, 0.030), (1.985, 0.030), (2.039, 0.030), (2.059, 0.030),
    (2.112, 0.030), (2.132, 0.030), (2.182, 0.030), (2.202, 0.030), (2.248, 0.030), (2.268, 0.030),
    (2.313, 0.030), (2.333, 0.030), (2.374, 0.030), (2.394, 0.030), (2.435, 0.030), (2.455, 0.030),
    (2.494, 0.034), (2.508, 0.034), (2.555, 0.034), (2.569, 0.034), (2.609, 0.034), (2.623, 0.034),
    (2.665, 0.034), (2.679, 0.034), (2.719, 0.034), (2.733, 0.034), (2.775, 0.034), (2.789, 0.034),
    (2.827, 0.034), (2.841, 0.034), (2.881, 0.034), (2.895, 0.034), (2.934, 0.034), (2.948, 0.034),
    (2.986, 0.034), (3.000, 0.034), (3.040, 0.034), (3.054, 0.034), (3.092, 0.034), (3.106, 0.034),
]

BANDS = {
    "top": top_band,
    "dashes": dash_band,
    "islands": islands,
    "arc": arc_band,
    "sea": chaotic_sea,
    "low_islands": low_islands,
    "mid_low": mid_low_band,
    "bottom": bottom_band,
}

FRAME = "#7a7a7a"
LABEL = "#6a6a6a"


def main():
    rows = [(t, a, name) for name, pts in BANDS.items() for t, a in pts]
    df = pd.DataFrame(rows, columns=["theta", "alpha", "band"])

    fig = plt.figure(figsize=(15.65, 8.01), dpi=100)
    ax = fig.add_axes([0.0275, 0.0587, 0.9553, 0.9255])
    sns.scatterplot(data=df, x="theta", y="alpha", color="black", s=7,
                    linewidth=0, legend=False, ax=ax)

    ax.set_xlim(-3.265, 3.265)
    ax.set_ylim(-0.094, 3.143)
    ax.xaxis.set_major_locator(MultipleLocator(1))
    ax.xaxis.set_minor_locator(MultipleLocator(0.2))
    ax.yaxis.set_major_locator(MultipleLocator(0.5))
    ax.yaxis.set_minor_locator(MultipleLocator(0.1))
    ax.yaxis.set_major_formatter(FormatStrFormatter("%.1f"))

    ax.tick_params(which="both", direction="in", top=True, right=True,
                   labeltop=False, labelright=False, color=FRAME,
                   labelcolor=LABEL, labelsize=8)
    ax.tick_params(which="major", length=4, width=0.8, pad=4)
    ax.tick_params(which="minor", length=2, width=0.6)
    for spine in ax.spines.values():
        spine.set_color(FRAME)
        spine.set_linewidth(0.8)

    ax.set_xlabel("θ", fontstyle="italic", color=LABEL, fontsize=8, labelpad=6)
    ax.set_ylabel("α", fontstyle="italic", color=LABEL, fontsize=8, labelpad=6)

    fig.savefig("out.png", dpi=100)
    plt.close(fig)


if __name__ == "__main__":
    main()
